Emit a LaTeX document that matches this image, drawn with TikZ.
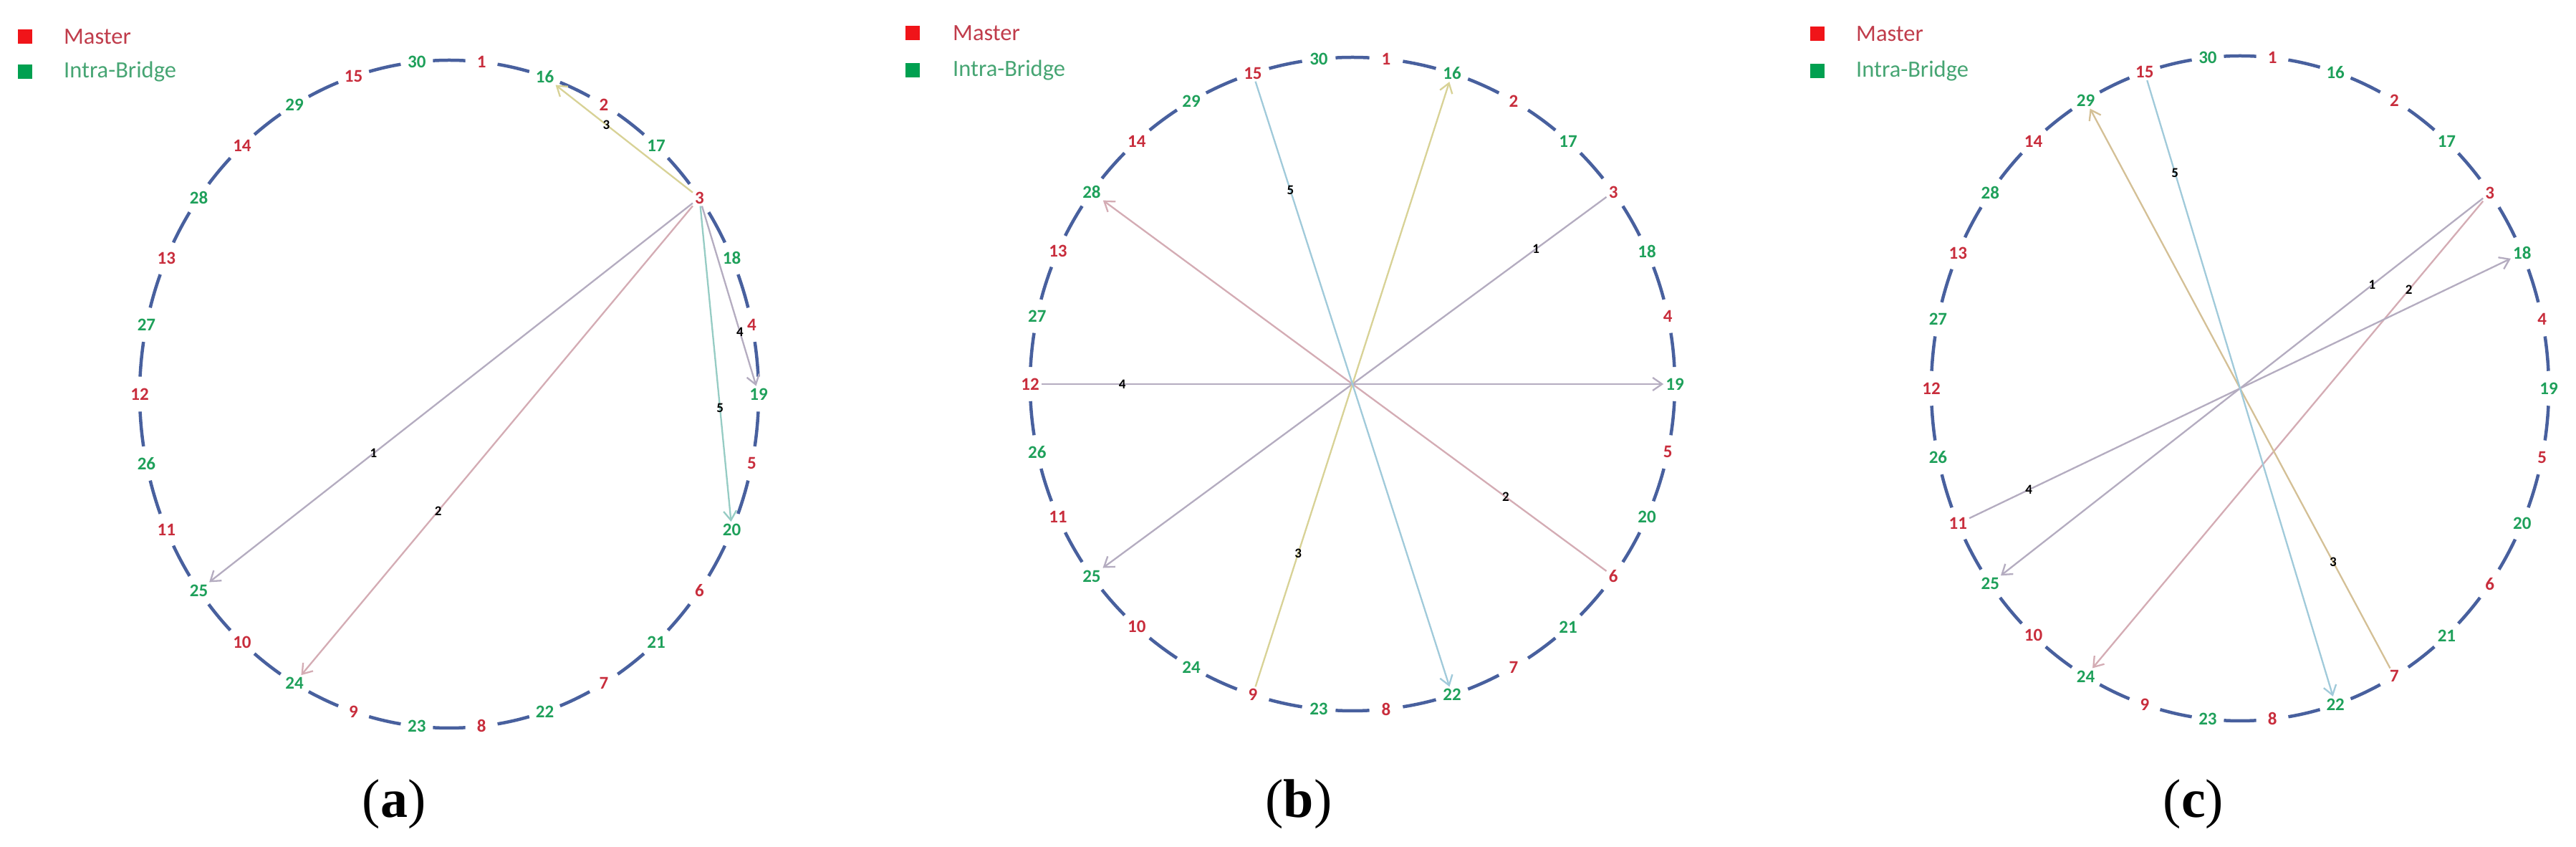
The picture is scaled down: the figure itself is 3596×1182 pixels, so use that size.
\documentclass[tikz,border=0pt]{standalone}
\usepackage{fontspec}
\setmainfont{Carlito}
\newfontfamily\capfont{Liberation Serif}
\usetikzlibrary{arrows.meta}
\definecolor{labred}{RGB}{200,45,60}
\definecolor{labgreen}{RGB}{30,160,90}
\definecolor{ringblue}{RGB}{72,96,158}
\definecolor{legred}{RGB}{240,20,25}
\definecolor{leggreen}{RGB}{0,160,80}
\definecolor{mastertxt}{RGB}{192,60,75}
\definecolor{bridgetxt}{RGB}{70,165,115}
\definecolor{ecgrey}{RGB}{180,172,192}
\definecolor{ecpink}{RGB}{212,172,180}
\definecolor{ecyellow}{RGB}{216,210,150}
\definecolor{ectan}{RGB}{212,192,150}
\definecolor{ecteal}{RGB}{150,204,196}
\definecolor{ecblue}{RGB}{160,202,218}
\tikzset{
  lab/.style={font={\fontsize{25}{28}\selectfont\bfseries}, inner sep=3pt},
  redlab/.style={lab, text=labred},
  greenlab/.style={lab, text=labgreen},
  ringseg/.style={draw=ringblue, line width=4.5pt},
  edgeline/.style={line width=2.3pt, -{Straight Barb[length=13pt,width=18pt,line width=2.3pt]}},
  elabel/.style={font={\fontsize{19}{20}\selectfont\bfseries}, text=black, inner sep=0pt},
  legsq/.style={minimum size=20pt, inner sep=0pt},
  legtext/.style={font={\fontsize{32.5}{36}\selectfont}, anchor=west, inner sep=0pt},
  captext/.style={font={\capfont\fontsize{76}{80}\selectfont}, inner sep=0pt}
}
\newcommand\drawring[3]{%
  \foreach \a in {0,12,...,348}{
    \draw[ringseg] ({\a+3}:#2 and #3) arc[start angle=\a+3, end angle=\a+9, x radius=#2, y radius=#3];
  }
  \foreach \n/\a/\s in {30/96/greenlab, 1/84/redlab, 16/72/greenlab, 2/60/redlab, 17/48/greenlab,
      3/36/redlab, 18/24/greenlab, 4/12/redlab, 19/0/greenlab, 5/-12/redlab, 20/-24/greenlab,
      6/-36/redlab, 21/-48/greenlab, 7/-60/redlab, 22/-72/greenlab, 8/-84/redlab, 23/-96/greenlab,
      9/-108/redlab, 24/-120/greenlab, 10/-132/redlab, 25/-144/greenlab, 11/-156/redlab,
      26/-168/greenlab, 12/180/redlab, 27/168/greenlab, 13/156/redlab, 28/144/greenlab,
      14/132/redlab, 29/120/greenlab, 15/108/redlab}{
    \node[\s] (#1\n) at (\a:#2 and #3) {\n};
  }
}
\begin{document}
\begin{tikzpicture}[x=1pt,y=1pt]
\useasboundingbox (0,0) rectangle (3596,1182);
\fill[white] (0,0) rectangle (3596,1182);

% ---------- panel (a)
\node[legsq, fill=legred] (lsqa1) at (35,1131) {};
\node[legsq, fill=leggreen] (lsqa2) at (35,1082) {};
\node[legtext, text=mastertxt] (ltxa1) at (89,1131) {Master};
\node[legtext, text=bridgetxt] (ltxa2) at (89,1082) {Intra-Bridge};
\begin{scope}[shift={(627,632)}]
  \drawring{a}{432}{466}
\end{scope}
\draw[edgeline, draw=ecgrey] (a3) -- (a25) node[elabel, pos=0.66] (ea1) {1};
\draw[edgeline, draw=ecpink] (a3) -- (a24) node[elabel, pos=0.65] (ea2) {2};
\draw[edgeline, draw=ecyellow] (a3) -- (a16) node[elabel, pos=0.63] (ea3) {3};
\draw[edgeline, draw=ecgrey] (a3) -- (a19) node[elabel, pos=0.70] (ea4) {4};
\draw[edgeline, draw=ecteal] (a3) -- (a20) node[elabel, pos=0.64] (ea5) {5};
\node[captext] (capa) at (550,60) {(\textbf{a})};

% ---------- panel (b)
\node[legsq, fill=legred] (lsqb1) at (1274,1136) {};
\node[legsq, fill=leggreen] (lsqb2) at (1274,1084) {};
\node[legtext, text=mastertxt] (ltxb1) at (1330,1136) {Master};
\node[legtext, text=bridgetxt] (ltxb2) at (1330,1084) {Intra-Bridge};
\begin{scope}[shift={(1888,646)}]
  \drawring{b}{450}{456}
\end{scope}
\draw[edgeline, draw=ecgrey] (b3) -- (b25) node[elabel, pos=0.14] (eb1) {1};
\draw[edgeline, draw=ecpink] (b6) -- (b28) node[elabel, pos=0.20] (eb2) {2};
\draw[edgeline, draw=ecyellow] (b9) -- (b16) node[elabel, pos=0.22] (eb3) {3};
\draw[edgeline, draw=ecgrey] (b12) -- (b19) node[elabel, pos=0.13] (eb4) {4};
\draw[edgeline, draw=ecblue] (b15) -- (b22) node[elabel, pos=0.18] (eb5) {5};
\node[captext] (capb) at (1813,60) {(\textbf{b})};

% ---------- panel (c)
\node[legsq, fill=legred] (lsqc1) at (2537,1135) {};
\node[legsq, fill=leggreen] (lsqc2) at (2537,1083) {};
\node[legtext, text=mastertxt] (ltxc1) at (2591,1135) {Master};
\node[legtext, text=bridgetxt] (ltxc2) at (2591,1083) {Intra-Bridge};
\begin{scope}[shift={(3127,640)}]
  \drawring{c}{431}{464}
\end{scope}
\draw[edgeline, draw=ecgrey] (c3) -- (c25) node[elabel, pos=0.23] (ec1) {1};
\draw[edgeline, draw=ecpink] (c3) -- (c24) node[elabel, pos=0.19] (ec2) {2};
\draw[edgeline, draw=ectan] (c7) -- (c29) node[elabel, pos=0.19] (ec3) {3};
\draw[edgeline, draw=ecgrey] (c11) -- (c18) node[elabel, pos=0.11] (ec4) {4};
\draw[edgeline, draw=ecblue] (c15) -- (c22) node[elabel, pos=0.15] (ec5) {5};
\node[captext] (capc) at (3062,60) {(\textbf{c})};
\end{tikzpicture}
\end{document}
